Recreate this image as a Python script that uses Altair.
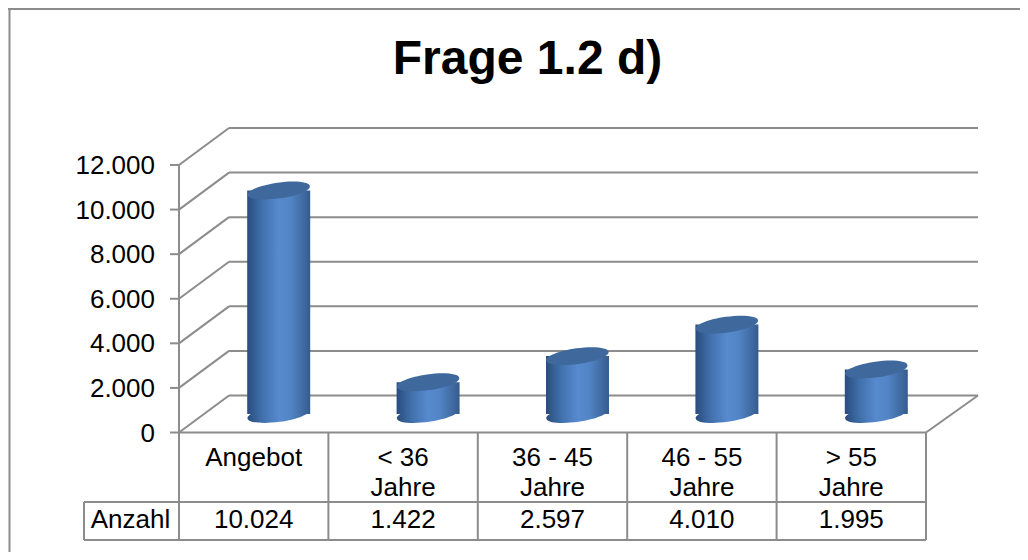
import altair as alt
import pandas as pd

# ---- data ----
categories = ["Angebot", "< 36 Jahre", "36 - 45 Jahre", "46 - 55 Jahre", "> 55 Jahre"]
category_labels = ["Angebot", "< 36\nJahre", "36 - 45\nJahre", "46 - 55\nJahre", "> 55\nJahre"]
values = [10024, 1422, 2597, 4010, 1995]
value_labels = ["10.024", "1.422", "2.597", "4.010", "1.995"]
tick_values = [0, 2000, 4000, 6000, 8000, 10000, 12000]
tick_labels = ["0", "2.000", "4.000", "6.000", "8.000", "10.000", "12.000"]
title_text = "Frage 1.2 d)"
row_label = "Anzahl"

# ---- layout / style ----
W, H = 1012, 544
F = "Liberation Sans"
LC = "#8c8c8c"
LW = 2
DX_BACK, DY_BACK = 50, -37
DX_MID, DY_MID = 25, -18.5
CYL_W = 63
ELLIPSE = ("M-1,0C-1,-0.138 -0.5523,-0.25 0,-0.25C0.5523,-0.25 1,-0.138 1,0"
           "C1,0.138 0.5523,0.25 0,0.25C-0.5523,0.25 -1,0.138 -1,0Z")

grad = alt.Gradient(
    gradient="linear", x1=0, x2=1, y1=0, y2=0,
    stops=[
        alt.GradientStop(color="#2a4c7d", offset=0),
        alt.GradientStop(color="#4272ae", offset=0.25),
        alt.GradientStop(color="#578ace", offset=0.5),
        alt.GradientStop(color="#5285c6", offset=0.68),
        alt.GradientStop(color="#365c8e", offset=1),
    ],
)

xs = alt.Scale(domain=categories, range=[171, 918], paddingInner=0, paddingOuter=0)
ys = alt.Scale(domain=[0, 12000], range=[424.5, 157], nice=False, zero=True)

df = pd.DataFrame({"c": categories, "lab": category_labels, "v": values, "vl": value_labels})
tk = pd.DataFrame({"t": tick_values, "lbl": tick_labels})

base = alt.Chart(df)
tks = alt.Chart(tk)
one = alt.Chart(pd.DataFrame({"k": [0]}))

X = alt.X("c:N", scale=xs, axis=None)
Yv = alt.Y("v:Q", scale=ys, axis=None, stack=None)
Yt = alt.Y("t:Q", scale=ys, axis=None)
Y0 = alt.YDatum(0, scale=ys, axis=None, type="quantitative")


def rule(**kw):
    return dict(color=LC, strokeWidth=LW, **kw)


layers = []
# title
layers.append(one.mark_text(text=title_text, font=F, fontSize=48, fontWeight="bold",
                            align="center", baseline="alphabetic")
              .encode(x=alt.value(519.5), y=alt.value(65.5)))

# back wall gridlines
layers.append(tks.mark_rule(**rule(yOffset=DY_BACK))
              .encode(y=Yt, x=alt.value(171 + DX_BACK), x2=alt.value(918 + 52)))
# side wall oblique lines
layers.append(tks.mark_rule(**rule(y2Offset=DY_BACK))
              .encode(y=Yt, y2="t:Q", x=alt.value(171), x2=alt.value(171 + DX_BACK)))
# axis ticks + line
layers.append(tks.mark_rule(**rule()).encode(y=Yt, x=alt.value(162), x2=alt.value(171)))
layers.append(one.mark_rule(**rule())
              .encode(x=alt.value(171), y=Y0, y2=alt.Y2Datum(12000)))
# tick labels
layers.append(tks.mark_text(font=F, fontSize=26, align="right", baseline="alphabetic", dy=9,
                            color="#000000")
              .encode(y=Yt, x=alt.value(147), text="lbl:N"))
# floor right oblique
layers.append(one.mark_rule(**rule(y2Offset=DY_BACK))
              .encode(x=alt.value(918), x2=alt.value(918 + 52), y=Y0, y2=alt.Y2Datum(0)))

# cylinders
layers.append(base.mark_point(shape=ELLIPSE, size=CYL_W * CYL_W, filled=True, fill=grad,
                              opacity=1, strokeWidth=0, angle=352,
                              xOffset=DX_MID, yOffset=DY_MID)
              .encode(x=X, y=Y0))
layers.append(base.mark_bar(width=CYL_W, fill=grad, xOffset=DX_MID,
                            yOffset=DY_MID, y2Offset=DY_MID)
              .encode(x=X, y=Yv, y2=alt.Y2Datum(0)))
layers.append(base.mark_point(shape=ELLIPSE, size=CYL_W * CYL_W, filled=True, fill="#3f699c",
                              opacity=1, strokeWidth=0, angle=352,
                              xOffset=DX_MID, yOffset=DY_MID)
              .encode(x=X, y=Yv))

# data table
layers.append(one.mark_rule(**rule()).encode(x=alt.value(171), x2=alt.value(918), y=Y0))
layers.append(base.mark_rule(**rule())
              .encode(x=alt.X("c:N", scale=xs, axis=None, bandPosition=0),
                      y=alt.value(424.5), y2=alt.value(532)))
layers.append(one.mark_rule(**rule()).encode(x=alt.value(918), y=alt.value(424.5), y2=alt.value(532)))
layers.append(one.mark_rule(**rule()).encode(x=alt.value(76), x2=alt.value(918), y=alt.value(494)))
layers.append(one.mark_rule(**rule()).encode(x=alt.value(76), x2=alt.value(918), y=alt.value(532)))
layers.append(one.mark_rule(**rule()).encode(x=alt.value(76), y=alt.value(494), y2=alt.value(532)))

layers.append(base.mark_text(font=F, fontSize=26, lineBreak="\n", lineHeight=30,
                             align="center", baseline="alphabetic", color="#000000")
              .encode(x=X, y=alt.value(457.5), text="lab:N"))
layers.append(base.mark_text(font=F, fontSize=26, align="center", baseline="alphabetic",
                             color="#000000")
              .encode(x=X, y=alt.value(520.3), text="vl:N"))
layers.append(one.mark_text(text=row_label, font=F, fontSize=26, align="center",
                            baseline="alphabetic", color="#000000")
              .encode(x=alt.value(122.5), y=alt.value(520.3)))

# outer frame: only the top and left edges are visible in the reference
layers.append(one.mark_rule(**rule()).encode(x=alt.value(0), x2=alt.value(W), y=alt.value(1)))
layers.append(one.mark_rule(**rule()).encode(x=alt.value(1.5), y=alt.value(0), y2=alt.value(H)))

chart = (alt.layer(*layers)
         .properties(width=W, height=H, padding=0,
                     autosize=alt.AutoSizeParams(type="none"), background="white")
         .configure_view(stroke=None, strokeWidth=0))

chart.save("out.html", embed_options={"renderer": "svg", "actions": False})
